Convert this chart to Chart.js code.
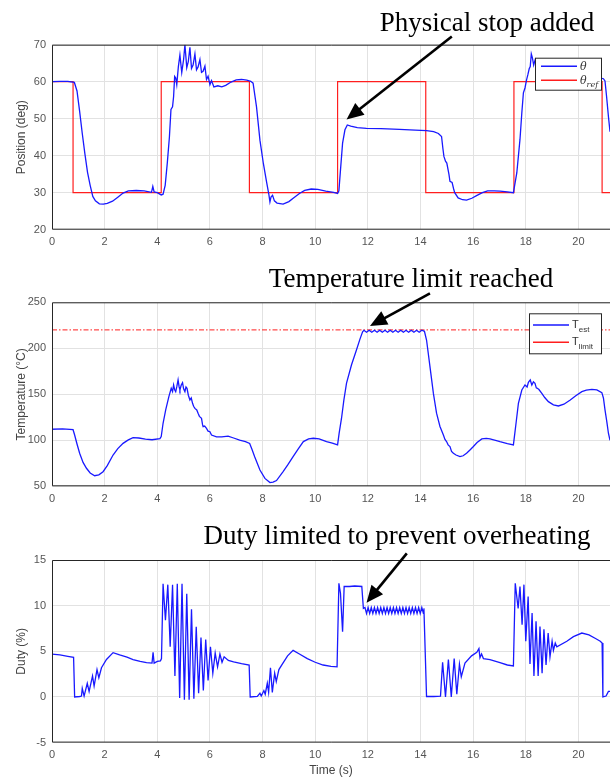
<!DOCTYPE html>
<html>
<head>
<meta charset="utf-8">
<title>Position, temperature and duty</title>
<script src="https://cdn.jsdelivr.net/npm/chart.js@4.4.1/dist/chart.umd.min.js"></script>
<style>
  html, body { margin: 0; padding: 0; background: #fff; }
  body { width: 610px; height: 778px; position: relative; overflow: hidden; }
  .plot { position: absolute; left: 0; width: 610px; }
  #posBox { top: 0; height: 256px; }
  #tempBox { top: 256px; height: 254px; }
  #dutyBox { top: 510px; height: 268px; }
</style>
</head>
<body>
<div class="plot" id="posBox"><canvas id="posChart"></canvas></div>
<div class="plot" id="tempBox"><canvas id="tempChart"></canvas></div>
<div class="plot" id="dutyBox"><canvas id="dutyChart"></canvas></div>

<script>
// AXES
const xTicks = [0, 2, 4, 6, 8, 10, 12, 14, 16, 18, 20];
const xMax = 21.2;
const posTicks = [20, 30, 40, 50, 60, 70];
const tempTicks = [50, 100, 150, 200, 250];
const dutyTicks = [-5, 0, 5, 10, 15];

// POSITION (deg)
const posT = [0, 0.3, 0.6, 0.85, 0.95, 1.05, 1.15, 1.25, 1.35, 1.45, 1.55, 1.65, 1.8, 1.95, 2.1, 2.3, 2.5, 2.7, 2.9, 3.2,
  3.5, 3.78, 3.83, 3.88, 4.0, 4.15, 4.22, 4.3, 4.38, 4.46, 4.52, 4.58, 4.62, 4.66, 4.7, 4.74, 4.8, 4.86, 4.93, 5.0,
  5.05, 5.12, 5.18, 5.24, 5.3, 5.36, 5.43, 5.49, 5.55, 5.62, 5.68, 5.74, 5.81, 5.87, 5.93, 6.0, 6.06, 6.15, 6.3, 6.45,
  6.6, 6.8, 7.0, 7.2, 7.4, 7.55, 7.64, 7.77, 7.9, 8.03, 8.15, 8.24, 8.28, 8.32, 8.38, 8.45, 8.55, 8.78, 9.0, 9.2,
  9.4, 9.6, 9.85, 10.1, 10.4, 10.7, 10.85, 10.9, 10.96, 11.04, 11.13, 11.22, 11.35, 11.6, 11.95, 12.5, 13.2, 13.8, 14.23, 14.5,
  14.68, 14.8, 14.85, 14.89, 14.95, 15.0, 15.08, 15.12, 15.2, 15.26, 15.3, 15.43, 15.6, 15.75, 15.95, 16.13, 16.35, 16.55, 16.8, 17.02,
  17.3, 17.53, 17.66, 17.78, 17.85, 17.91, 17.97, 18.03, 18.08, 18.13, 18.17, 18.21, 18.25, 18.3, 18.35, 18.4, 18.6, 18.8, 19.1, 19.5,
  19.9, 20.3, 20.6, 20.89, 20.95, 21.01, 21.07, 21.14, 21.2];
const posY = [60.0, 60.1, 60.1, 59.8, 57.5, 52, 46, 40.5, 35.5, 32, 29, 27.8, 27.0, 26.9, 27.1, 27.7, 28.8, 29.9, 30.5, 30.6,
  30.5, 30.1, 31.7, 30.2, 30.0, 29.4, 29.6, 32, 38, 45, 52.5, 53.2, 56, 61.4, 61, 59.2, 64, 67.2, 62.5, 66,
  70, 63.8, 65.5, 69.3, 63.6, 64.5, 67.5, 63.2, 64, 66, 62.5, 62.8, 64.2, 60.6, 61.5, 59.2, 60.3, 58.6, 58.9, 58.6,
  59.0, 59.9, 60.5, 60.6, 60.4, 60.1, 59.6, 53.2, 44.2, 37.9, 33, 29.5, 27.5, 28.8, 29.3, 27.8, 27.2, 26.9, 27.6, 28.7,
  29.8, 30.6, 31.0, 30.9, 30.4, 30.1, 29.8, 30.5, 36.1, 43.4, 47, 48.3, 48.0, 47.6, 47.4, 47.3, 47.1, 46.9, 46.8, 46.5,
  46, 45.2, 42, 39.8, 38.5, 38, 35, 33.1, 32.8, 31, 30, 28.6, 28.1, 28, 28.5, 29.2, 30, 30.5, 30.5, 30.4,
  30.2, 30, 35.4, 44.4, 51.6, 57, 58.3, 60.5, 61.9, 63.5, 64.1, 67.5, 66.5, 64.5, 65.8, 64, 62.5, 61.5, 60.5, 60.2,
  60.5, 60.8, 61, 60.9, 60.8, 60.2, 56, 50.6, 46.5];
const refT = [0, 0.8, 4.15, 7.5, 10.85, 14.2, 17.55, 20.9, 21.2];
const refY = [60, 30, 60, 30, 60, 30, 60, 30, 30];

// TEMPERATURE (degC)
const tempT = [0, 0.4, 0.8, 0.86, 0.95, 1.05, 1.18, 1.31, 1.45, 1.62, 1.78, 1.94, 2.1, 2.32, 2.5, 2.7, 2.9, 3.08, 3.3, 3.55,
  3.8, 4.1, 4.15, 4.22, 4.32, 4.44, 4.53, 4.58, 4.62, 4.66, 4.7, 4.74, 4.79, 4.83, 4.86, 4.91, 4.96, 5.0, 5.05, 5.09,
  5.13, 5.18, 5.24, 5.29, 5.34, 5.38, 5.43, 5.5, 5.55, 5.6, 5.68, 5.72, 5.74, 5.8, 5.87, 5.93, 6.0, 6.06, 6.25, 6.45,
  6.69, 6.9, 7.13, 7.35, 7.51, 7.6, 7.7, 7.9, 8.09, 8.28, 8.4, 8.53, 8.78, 8.95, 9.16, 9.35, 9.55, 9.75, 9.93, 10.15,
  10.43, 10.65, 10.85, 10.91, 11.0, 11.09, 11.19, 11.38, 11.57, 11.7, 11.8,
  11.85, 11.95, 12.05, 12.15, 12.25, 12.35, 12.45, 12.55, 12.65, 12.75, 12.85, 12.95, 13.05, 13.15, 13.25, 13.35, 13.45, 13.55, 13.65, 13.75,
  13.85, 13.95, 14.05, 14.15, 14.23, 14.36, 14.49, 14.61, 14.74, 14.87, 14.93, 14.99, 15.05, 15.12, 15.18, 15.25, 15.35, 15.5, 15.62, 15.75,
  15.88, 16.01, 16.15, 16.33, 16.5, 16.64, 16.85, 17.02, 17.3, 17.53, 17.63, 17.72, 17.85, 17.97, 18.05, 18.1, 18.17, 18.23, 18.29, 18.35,
  18.4, 18.44, 18.5, 18.61, 18.72, 18.86, 19.05, 19.24, 19.45, 19.69, 19.9, 20.13, 20.3, 20.51, 20.7, 20.89, 20.95, 21.01, 21.08, 21.14, 21.2];
const tempY = [112, 112.5, 111.5, 105.8, 96, 85.9, 76, 69.6, 64.5, 61.5, 62.5, 65.9, 72.5, 84, 91, 96.7, 100.5, 102.8, 102.5, 101.2,
  100.6, 101.8, 104, 118.5, 133, 147.4, 156.5, 153, 160.1, 155, 152.9, 158, 165.6, 158, 154.7, 160, 162.6, 156, 152.9, 158,
  156.5, 149, 143.8, 146, 140.2, 137, 134.7, 133, 129.3, 126, 123.9, 117, 114.8, 115.5, 113, 110, 109.3, 105.7, 103.8, 103.8,
  104.6, 102.5, 100.2, 98.5, 96.6, 90, 82.2, 67.7, 58.6, 54, 54.5, 56.2, 66, 73, 82.2, 90.5, 98.6, 101.5, 102.2, 101.5,
  98.6, 96.8, 95, 107.7, 124, 144, 162.1, 182.1, 198.4, 210, 218,
  219.6, 217.4, 219.6, 217.4, 219.6, 217.4, 219.6, 217.4, 219.6, 217.4, 219.6, 217.4, 219.6, 217.4, 219.6, 217.4, 219.6, 217.4, 219.6, 217.4,
  219.6, 217.4, 219.6, 218.5, 209, 180, 151, 129.5, 115, 105.8, 101, 98.6, 95, 93.2, 88, 85.9, 84, 82.3, 83.2, 85.9,
  89.5, 93.2, 97.5, 101.5, 102, 101.5, 100, 98.6, 96.5, 95, 118.5, 140.2, 154.7, 160.1, 158, 163, 165.6, 160.1, 163.5, 161.9,
  157, 156.5, 155.2, 151, 146.5, 142, 138.5, 137.3, 139.2, 143.8, 148.5, 152.9, 154.5, 155.4, 154.8, 151.8, 146, 133, 120, 107.7, 100];
const limT = [0, 21.2];
const limY = [220, 220];

// DUTY (%)
const dutyT = [0, 0.3, 0.6, 0.82, 0.86, 1.05, 1.12, 1.15, 1.22, 1.34, 1.41, 1.54, 1.6, 1.71, 1.78, 1.88, 2.07, 2.32, 2.57, 2.85,
  3.08, 3.35, 3.59, 3.8, 3.84, 3.88, 4.0, 4.12, 4.16, 4.22, 4.31, 4.4, 4.49, 4.58, 4.67, 4.76, 4.85, 4.94, 5.03, 5.12,
  5.21, 5.3, 5.39, 5.48, 5.57, 5.66, 5.75, 5.84, 5.93, 6.02, 6.11, 6.2, 6.29, 6.38, 6.46, 6.54, 6.7, 6.9, 7.2, 7.49,
  7.53, 7.8, 7.9, 7.95, 8.05, 8.1, 8.18, 8.23, 8.3, 8.37, 8.46, 8.52, 8.62, 8.75, 8.95, 9.16, 9.4, 9.7, 10.0, 10.3,
  10.6, 10.83, 10.9, 10.96, 11.04, 11.1, 11.3, 11.5, 11.77, 11.83,
  11.89, 11.95, 12.01, 12.07, 12.13, 12.19, 12.25, 12.31, 12.37, 12.43, 12.49, 12.55, 12.61, 12.67, 12.73, 12.79, 12.85, 12.91, 12.97, 13.03,
  13.09, 13.15, 13.21, 13.27, 13.33, 13.39, 13.45, 13.51, 13.57, 13.63, 13.69, 13.75, 13.81, 13.87, 13.93, 13.99, 14.05, 14.11,
  14.13, 14.23, 14.5, 14.76, 14.84, 14.95, 15.06, 15.17, 15.28, 15.38, 15.48, 15.55, 15.69, 15.94, 16.14, 16.22, 16.26, 16.32, 16.39, 16.64,
  17.02, 17.3, 17.53, 17.6, 17.71, 17.78, 17.86, 17.93, 18.0, 18.09, 18.16, 18.24, 18.31, 18.39, 18.47, 18.54, 18.62, 18.69, 18.77, 18.85,
  18.92, 19.0, 19.05, 19.12, 19.18, 19.56, 19.81, 20.13, 20.4, 20.65, 20.83, 20.9, 20.93, 21.05, 21.14, 21.2];
const dutyY = [4.7, 4.6, 4.45, 4.35, 0, 0.05, 0.1, 0.95, 0.1, 1.5, 0.6, 2.3, 1.2, 3.0, 2.1, 3.2, 4.1, 4.85, 4.6, 4.35,
  4.1, 3.9, 3.75, 3.7, 4.9, 3.7, 3.9, 3.95, 4.2, 12.4, 8.4, 12.3, 5.5, 12.3, 2.3, 12.4, -0.1, 12.4, -0.3, 11.3,
  -0.3, 9.6, -0.2, 7.7, 0.4, 6.5, 0.7, 6.3, 1.8, 5.5, 2.6, 4.8, 3.3, 4.7, 3.8, 4.4, 4.0, 3.85, 3.65, 3.5,
  0, 0.05, 0.4, 0.1, 0.7, 0.3, 1.5, 0.5, 3.2, 0.5, 2.6, 1.7, 3.0, 3.6, 4.5, 5.1, 4.7, 4.2, 3.8, 3.5,
  3.35, 3.3, 12.45, 11.35, 7.15, 12.1, 12.1, 12.15, 12.1, 9.7,
  9.8, 9.15, 9.8, 9.15, 9.8, 9.15, 9.8, 9.15, 9.8, 9.15, 9.8, 9.15, 9.8, 9.15, 9.8, 9.15, 9.8, 9.15, 9.8, 9.15,
  9.8, 9.15, 9.8, 9.15, 9.8, 9.15, 9.8, 9.15, 9.8, 9.15, 9.8, 9.15, 9.8, 9.15, 9.8, 9.15, 9.8, 9.15,
  9.7, 0.05, 0.05, 0.1, 3.8, 0.0, 4.1, 0.0, 4.2, 0.3, 3.6, 2.2, 3.7, 4.5, 4.9, 5.3, 4.3, 4.7, 4.2, 4.1,
  3.75, 3.5, 3.4, 12.45, 9.7, 12.1, 7.9, 12.3, 6.1, 11.0, 3.6, 9.2, 2.3, 8.3, 2.3, 7.7, 2.6, 7.4, 3.5, 7.0,
  4.4, 6.1, 5.1, 5.9, 5.5, 6.1, 6.6, 7.0, 6.8, 6.4, 6.1, 5.9, 0, 0.1, 0.6, 0.6];

// STYLE
const blue = "rgb(25,25,255)";
const red = "rgb(255,30,30)";
const gridColor = "#e2e2e2";
Chart.defaults.font.family = "'Liberation Sans', Arial, Helvetica, sans-serif";

function pairs(xs, ys) {
  return xs.map((x, i) => ({ x: x, y: ys[i] }));
}

// MATLAB-like box: left, top and bottom edges
const framePlugin = {
  id: "frame",
  afterDatasetsDraw(chart) {
    const { ctx, chartArea: a } = chart;
    ctx.save();
    ctx.strokeStyle = "#262626";
    ctx.lineWidth = 1;
    ctx.beginPath();
    ctx.moveTo(a.right + 1, a.top + 0.5);
    ctx.lineTo(a.left + 0.5, a.top + 0.5);
    ctx.lineTo(a.left + 0.5, a.bottom - 0.5);
    ctx.lineTo(a.right + 1, a.bottom - 0.5);
    ctx.stroke();
    ctx.restore();
  }
};

// legend box drawn inside the plot, with subscripts
const boxPlugin = {
  id: "box",
  afterDatasetsDraw(chart, args, opts) {
    if (!opts || !opts.items) return;
    const { ctx, chartArea: a } = chart;
    const left = a.right + opts.x, top = a.top + opts.y;
    ctx.save();
    ctx.fillStyle = "#fff";
    ctx.fillRect(left, top, opts.w, opts.h);
    ctx.strokeStyle = "#262626";
    ctx.lineWidth = 1;
    ctx.strokeRect(left + 0.5, top + 0.5, opts.w, opts.h);
    opts.items.forEach((it) => {
      const ly = top + it.y;
      ctx.strokeStyle = it.color;
      ctx.lineWidth = 1.5;
      ctx.beginPath();
      ctx.moveTo(left + opts.line[0], ly);
      ctx.lineTo(left + opts.line[1], ly);
      ctx.stroke();
      ctx.fillStyle = "#333";
      ctx.textBaseline = "alphabetic";
      ctx.textAlign = "left";
      ctx.font = opts.mainFont;
      const tx = left + opts.line[1] + opts.gap;
      ctx.fillText(it.main, tx, ly + opts.mainDy);
      if (it.sub) {
        const w = ctx.measureText(it.main).width;
        ctx.font = opts.subFont;
        ctx.fillText(it.sub, tx + w, ly + opts.subDy);
      }
    });
    ctx.restore();
  }
};

// annotation text + arrow, placed in data units
const notesPlugin = {
  id: "notes",
  afterDraw(chart, args, opts) {
    if (!opts || !opts.text) return;
    const { ctx, scales: { x, y } } = chart;
    const px = (v) => x.getPixelForValue(v);
    const py = (v) => y.getPixelForValue(v);
    ctx.save();
    ctx.fillStyle = "#000";
    ctx.font = "27px 'Liberation Serif', 'Times New Roman', serif";
    ctx.textAlign = "center";
    ctx.textBaseline = "alphabetic";
    ctx.fillText(opts.text, px(opts.at[0]), py(opts.at[1]));

    const x0 = px(opts.from[0]), y0 = py(opts.from[1]);
    const x1 = px(opts.to[0]), y1 = py(opts.to[1]);
    const ang = Math.atan2(y1 - y0, x1 - x0);
    const c = Math.cos(ang), s = Math.sin(ang);
    const head = 17, half = 7.5;
    ctx.strokeStyle = "#000";
    ctx.lineWidth = 2.6;
    ctx.beginPath();
    ctx.moveTo(x0, y0);
    ctx.lineTo(x1 - c * head * 0.8, y1 - s * head * 0.8);
    ctx.stroke();
    ctx.beginPath();
    ctx.moveTo(x1, y1);
    ctx.lineTo(x1 - head * c + half * s, y1 - head * s - half * c);
    ctx.lineTo(x1 - head * c - half * s, y1 - head * s + half * c);
    ctx.closePath();
    ctx.fill();
    ctx.restore();
  }
};

function plotOptions(cfg) {
  return {
    responsive: true,
    maintainAspectRatio: false,
    animation: false,
    layout: { padding: { top: cfg.top, left: 0, right: 0, bottom: 0 } },
    plugins: {
      legend: { display: false },
      tooltip: { enabled: false },
      notes: cfg.notes,
      box: cfg.box
    },
    scales: {
      x: {
        type: "linear",
        min: 0,
        max: xMax,
        afterBuildTicks: (s) => { s.ticks = xTicks.map((v) => ({ value: v })); },
        afterFit: (s) => { s.height = cfg.xHeight; },
        ticks: { padding: 6, color: "#555", font: { size: 11 } },
        grid: { color: gridColor, drawTicks: false },
        border: { display: false },
        title: {
          display: !!cfg.xTitle,
          text: cfg.xTitle || "",
          color: "#444",
          font: { size: 12 },
          padding: { top: 0, bottom: 0 }
        }
      },
      y: {
        min: cfg.ticks[0],
        max: cfg.ticks[cfg.ticks.length - 1],
        afterBuildTicks: (s) => { s.ticks = cfg.ticks.map((v) => ({ value: v })); },
        afterFit: (s) => { s.width = 52; },
        ticks: { padding: 6, color: "#555", font: { size: 11 } },
        grid: { color: gridColor, drawTicks: false },
        border: { display: false },
        title: {
          display: true,
          text: cfg.yTitle,
          color: "#444",
          font: { size: 12 },
          padding: { top: 14, bottom: 0 }
        }
      }
    }
  };
}

function line(data, color, extra) {
  return Object.assign({
    data: data,
    borderColor: color,
    borderWidth: 1.3,
    pointRadius: 0,
    tension: 0,
    fill: false
  }, extra || {});
}

// POSITION CHART
new Chart(document.getElementById("posChart"), {
  type: "line",
  data: {
    datasets: [
      line(pairs(posT, posY), blue),
      line(pairs(refT, refY), red, { stepped: true, borderWidth: 1.2 })
    ]
  },
  options: plotOptions({
    top: 44.7,
    xHeight: 26.3,
    ticks: posTicks,
    yTitle: "Position (deg)",
    notes: { text: "Physical stop added", at: [16.53, 73.6], from: [15.19, 72.2], to: [11.19, 49.8] },
    box: {
      x: -75, y: 13, w: 66, h: 32, line: [6, 42], gap: 3,
      mainFont: "italic 11px 'DejaVu Serif', serif", subFont: "italic 8px 'DejaVu Serif', serif",
      mainDy: 3.5, subDy: 7,
      items: [{ color: blue, y: 8.5, main: "\u03b8" }, { color: red, y: 22.5, main: "\u03b8", sub: "ref" }]
    }
  }),
  plugins: [framePlugin, boxPlugin, notesPlugin]
});

// TEMPERATURE CHART
new Chart(document.getElementById("tempChart"), {
  type: "line",
  data: {
    datasets: [
      line(pairs(tempT, tempY), blue),
      line(pairs(limT, limY), red, { borderWidth: 1, borderDash: [5, 2, 1.5, 2] })
    ]
  },
  options: plotOptions({
    top: 46.3,
    xHeight: 23.7,
    ticks: tempTicks,
    yTitle: "Temperature (\u00b0C)",
    notes: { text: "Temperature limit reached", at: [13.64, 266.6], from: [14.36, 259.8], to: [12.08, 224.2] },
    box: {
      x: -81, y: 11, w: 72, h: 40, line: [4, 40], gap: 3,
      mainFont: "11px 'Liberation Sans', Arial, sans-serif", subFont: "8px 'Liberation Sans', Arial, sans-serif",
      mainDy: 2.5, subDy: 7,
      items: [{ color: blue, y: 11.7, main: "T", sub: "est" }, { color: red, y: 29, main: "T", sub: "limit" }]
    }
  }),
  plugins: [framePlugin, boxPlugin, notesPlugin]
});

// DUTY CHART
new Chart(document.getElementById("dutyChart"), {
  type: "line",
  data: {
    datasets: [line(pairs(dutyT, dutyY), blue)]
  },
  options: plotOptions({
    top: 50,
    xHeight: 35.4,
    ticks: dutyTicks,
    yTitle: "Duty (%)",
    xTitle: "Time (s)",
    notes: { text: "Duty limited to prevent overheating", at: [13.11, 16.8], from: [13.48, 15.73], to: [11.95, 10.32] }
  }),
  plugins: [framePlugin, notesPlugin]
});
</script>
</body>
</html>
